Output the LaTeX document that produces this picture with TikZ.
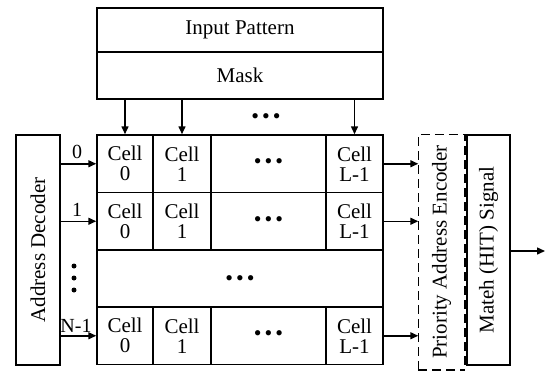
\documentclass[tikz,border=0pt]{standalone}
\usepackage{fontspec}
\setmainfont{Liberation Serif}
\usetikzlibrary{arrows.meta}
\begin{document}
\begin{tikzpicture}[x=1pt,y=-1pt,
  lw/.style={line width=1.5pt},
  box/.style={draw,lw,inner sep=0pt,align=center,font=\fontsize{21}{20}\selectfont},
  arr/.style={lw,-{Triangle[length=8pt,width=7pt]}},
  lab/.style={inner sep=0pt,font=\fontsize{20}{20}\selectfont},
  dots/.style={inner sep=0pt,font=\fontsize{22}{12}\selectfont},
  vdot/.style={circle,fill,inner sep=0pt,minimum size=5pt}]
\useasboundingbox (0,0) rectangle (546,370);
% top blocks
\node[box,minimum width=286pt,minimum height=44pt] (inp) at (240,30) {Input Pattern};
\node[box,minimum width=286pt,minimum height=47pt] (mask) at (240,75.5) {Mask};
% rows
\foreach \r/\cy/\h in {0/163.75/57.5, 1/221.25/57.5, N/335.75/57.5}{
  \node[box,minimum width=56pt,minimum height=\h pt] (c\r0) at (125,\cy) {Cell\\0};
  \node[box,minimum width=58pt,minimum height=\h pt] (c\r1) at (182,\cy) {Cell\\1};
  \node[box,minimum width=115pt,minimum height=\h pt] (c\r d) at (268.5,\cy) {};
  \node[dots] (t\r d) at (c\r d) {•\hspace{3pt}•\hspace{3pt}•};
  \node[box,minimum width=57pt,minimum height=\h pt] (c\r L) at (354.5,\cy) {Cell\\L-1};
}
\node[box,minimum width=286pt,minimum height=57pt] (mid) at (240,278.5) {};
\node[dots] (tmid) at (240,281) {•\hspace{3pt}•\hspace{3pt}•};
% side blocks
\node[box,minimum width=44pt,minimum height=230pt] (dec) at (38,250) {\rotatebox{90}{Address Decoder}};
\node[box,draw=none,minimum width=45pt,minimum height=234pt] (enc) at (441.5,252) {\rotatebox{90}{Priority Address Encoder}};
\draw[lw,dash pattern=on 9pt off 5pt] (enc.south west) |- (enc.north east) -- (enc.south east);
\draw[lw,dash pattern=on 9pt off 5pt] (enc.south west) -- (enc.south east);
\node[box,minimum width=43pt,minimum height=230pt] (match) at (488.5,250) {\rotatebox{90}{Mateh (HIT) Signal}};
% mask arrows
\foreach \c in {c00,c01,c0L}{
  \draw[arr] (mask.south -| \c.north) -- (\c.north);
}
\node[dots] (tdtop) at (266,119) {•\hspace{3pt}•\hspace{3pt}•};
% decoder arrows
\foreach \r in {0,1,N}{
  \draw[arr] (dec.east |- c\r0.west) -- (c\r0.west);
  \draw[arr] (c\r L.east) -- (enc.west |- c\r L.east);
}
\node[lab] (l0) at (77,152) {0};
\node[lab] (l1) at (77,210) {1};
\node[lab] (lN) at (76,326) {N-1};
\node[vdot] (vd1) at (74,266) {};
\node[vdot] (vd2) at (74,278) {};
\node[vdot] (vd3) at (74,290) {};
% output
\coordinate (out) at (545,251);
\draw[arr] (match.east |- out) -- (out);
\end{tikzpicture}
\end{document}
